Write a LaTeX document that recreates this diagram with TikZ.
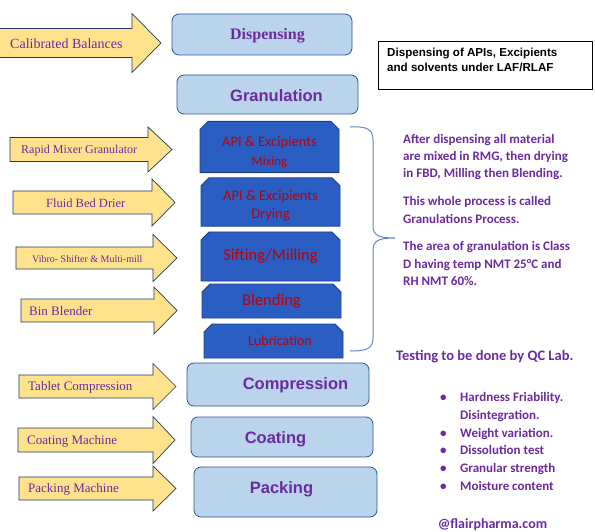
\documentclass[tikz,border=0pt]{standalone}
\usepackage{fontspec}
\setmainfont{Liberation Serif}
\setsansfont{Liberation Sans}
\newfontfamily\calibri{Carlito}
\usetikzlibrary{shapes.misc}

\definecolor{procpurple}{HTML}{6B2A9E}
\definecolor{lightfill}{HTML}{BAD4EC}
\definecolor{lightedge}{HTML}{2F5597}
\definecolor{darkfill}{HTML}{2B5EC2}
\definecolor{darkedge}{HTML}{1F3F85}
\definecolor{darkred}{HTML}{C00000}
\definecolor{goldfill}{HTML}{FFE38C}
\definecolor{goldedge}{HTML}{1F3864}
\definecolor{bracecol}{HTML}{6585C8}

\begin{document}
\begin{tikzpicture}[x=1pt,y=-1pt,
  light box/.style={rectangle,rounded corners=7pt,draw=lightedge,fill=lightfill,line width=0.8pt},
  dark box/.style={chamfered rectangle,chamfered rectangle corners={north west,north east},
    chamfered rectangle xsep=3pt,chamfered rectangle ysep=5pt,draw=darkedge,fill=darkfill,
    line width=0.8pt,minimum width=139pt,inner sep=0pt,text=darkred,align=center},
  box title/.style={text=procpurple,inner sep=0pt,font=\sffamily\bfseries\fontsize{16.5}{16.5}\selectfont},
  gold arrow/.style={draw=goldedge,fill=goldfill,line width=0.7pt,line join=miter},
  arrow text/.style={text=procpurple,inner sep=0pt,anchor=west},
  note/.style={text=procpurple,inner sep=0pt,anchor=west,align=left,
    font=\calibri\bfseries\fontsize{13}{17.4}\selectfont}]

  \useasboundingbox (0,0) rectangle (595,532);

  % machines feeding each step
  \foreach \xl/\xt/\yc/\bh/\hh/\hl/\tx/\fs/\nm/\txt in {
      -2/161/43/14.5/29.5/29/10/14/bal/Calibrated Balances,
      10/172/149.5/12/22.5/24/21/12/rmg/Rapid Mixer Granulator,
      13/175/202.5/11.5/23.5/23/46/12.5/fbd/Fluid Bed Drier,
      16/177/258/11/23.5/24/32/10/vibro/Vibro- Shifter \& Multi-mill,
      21/177/310.5/11.5/23.5/23/29/13/bin/Bin Blender,
      19/176/386.5/11.5/23/23/28/13/tab/Tablet Compression,
      18/175/440/12/23.5/22/27/13/coat/Coating Machine,
      19/176/488.5/11.5/22.5/23/28/13/pack/Packing Machine}
  {
    \draw[gold arrow] (\xl,{\yc-\bh}) -- ({\xt-\hl},{\yc-\bh}) -- ({\xt-\hl},{\yc-\hh})
      -- (\xt,\yc) -- ({\xt-\hl},{\yc+\hh}) -- ({\xt-\hl},{\yc+\bh}) -- (\xl,{\yc+\bh}) -- cycle;
    \node[arrow text,font=\fontsize{\fs}{\fs}\selectfont] (\nm) at (\tx,{\yc+1}) {\txt};
  }

  % main steps
  \node[light box,minimum width=180,minimum height=41] (disp) at (262,34.5) {};
  \node[box title,font=\rmfamily\bfseries\fontsize{16}{16}\selectfont] (disp-t) at (267.5,36) {Dispensing};
  \node[light box,minimum width=181,minimum height=39] (gran) at (267.5,94.5) {};
  \node[box title] (gran-t) at (276.5,96) {Granulation};
  \node[light box,minimum width=182,minimum height=43] (comp) at (278,384.5) {};
  \node[box title] (comp-t) at (295.5,385) {Compression};
  \node[light box,minimum width=182,minimum height=40] (coating) at (282,437) {};
  \node[box title] (coating-t) at (275.5,439) {Coating};
  \node[light box,minimum width=183,minimum height=50] (packing) at (285.5,492) {};
  \node[box title] (packing-t) at (281.5,489) {Packing};

  % granulation sub-steps
  \node[dark box,minimum height=46,font=\calibri\fontsize{14.5}{19}\selectfont] (mix) at (269.5,147)
    {\rule{0pt}{20pt}API \& Excipients\\{\fontsize{13}{13}\selectfont Mixing}};
  \node[dark box,minimum height=48,font=\calibri\fontsize{14.5}{18}\selectfont] (dry) at (270.5,202)
    {\rule{0pt}{18pt}API \& Excipients\\Drying};
  \node[dark box,minimum height=49,font=\calibri\fontsize{16.5}{16.5}\selectfont] (sift) at (270.5,256.5) {Sifting/Milling};
  \node[dark box,minimum height=34,font=\calibri\fontsize{16.5}{16.5}\selectfont] (blend) at (271.5,301) {Blending};
  \node[dark box,minimum height=34,font=\calibri\fontsize{14}{14}\selectfont] (lub) at (273.5,341) {\hspace*{13pt}Lubrication};

  % brace and notes
  \draw[bracecol,line width=1pt] (350,127) .. controls (368,126) and (373,130) .. (373,140)
    -- (373,226) .. controls (373,236) and (380,238) .. (395,238)
    .. controls (380,238) and (373,240) .. (373,250)
    -- (373,338) .. controls (373,348) and (368,351) .. (350,351);

  \node[rectangle,draw=black,line width=0.8pt,fill=white,minimum width=214,minimum height=48] (laf) at (485,65) {};
  \node[anchor=west,inner sep=0pt,align=left,font=\sffamily\bfseries\fontsize{11.6}{15}\selectfont] (laf-t) at (387,59.5)
    {Dispensing of APIs, Excipients\\and solvents under LAF/RLAF};

  \node[note] (gran-n1) at (403,157) {After dispensing all material\\are mixed in RMG, then drying\\in FBD, Milling then Blending.};
  \node[note] (gran-n2) at (403,210) {This whole process is called\\Granulations Process.};
  \node[note] (gran-n3) at (403,263.5) {The area of granulation is Class\\D having temp NMT 25°C and\\RH NMT 60\%.};

  \node[note,font=\calibri\bfseries\fontsize{14.5}{14.5}\selectfont] (qc) at (396,357) {Testing to be done by QC Lab.};
  \node[note,font=\calibri\bfseries\fontsize{13}{17.8}\selectfont] (qc-list) at (440,441.5)
    {\makebox[20pt][l]{•}Hardness Friability.\\
     \hspace*{20pt}Disintegration.\\
     \makebox[20pt][l]{•}Weight variation.\\
     \makebox[20pt][l]{•}Dissolution test\\
     \makebox[20pt][l]{•}Granular strength\\
     \makebox[20pt][l]{•}Moisture content};

  \node[note,anchor=center,font=\calibri\bfseries\fontsize{14}{14}\selectfont] (site) at (492.5,525) {@flairpharma.com};

\end{tikzpicture}
\end{document}
